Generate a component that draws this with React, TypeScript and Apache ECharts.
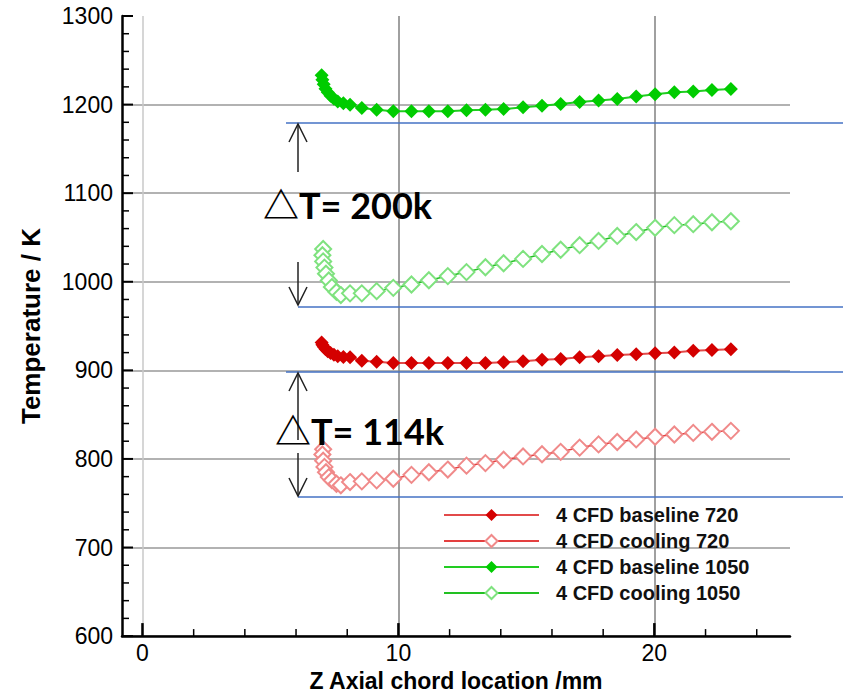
import React, { useEffect, useRef } from "react";
import * as echarts from "echarts";

// Axial positions (mm)
const zLeadBaseline = [7.0, 7.03, 7.08, 7.15, 7.24, 7.35, 7.48, 7.63, 7.85];
const zLeadCooling = [7.06, 7.03, 7.06, 7.11, 7.17, 7.28, 7.4, 7.58, 7.75];
const zMain = [8.11, 8.57, 9.15, 9.8, 10.51, 11.19, 11.93, 12.66, 13.4, 14.11, 14.87, 15.61, 16.34, 17.08, 17.82, 18.55, 19.29, 20.03, 20.78, 21.52, 22.25, 22.99];

// Temperatures (K)
const tBaseline720 = [931.3, 929, 926.5, 924, 921.5, 919.5, 917.5, 916, 915,
  914.7, 910.9, 909.8, 908.3, 908.3, 908.3, 908.3, 908.3, 908.3, 909.1, 910.2, 912, 912.8, 914.7, 915.8, 917.2, 918.3, 919.4, 920.2, 922, 923.1, 923.9];
const tCooling720 = [811, 805, 798, 791, 785, 779.5, 776, 772, 770.2,
  773.9, 774.7, 775.8, 777.6, 782, 785, 788, 792.4, 795.3, 799.1, 802.8, 805.3, 808, 812.8, 816.4, 819.1, 822, 825, 827.6, 829.4, 830.6, 831.7];
const tBaseline1050 = [1233, 1228, 1223, 1218, 1214, 1210, 1206.5, 1203.5, 1201.5,
  1199.8, 1196.1, 1194.2, 1192.4, 1192.4, 1192.4, 1192.4, 1193.6, 1194.2, 1195, 1196.9, 1198.7, 1200.6, 1202.8, 1204.7, 1206.4, 1209.1, 1211.7, 1213.9, 1214.7, 1216.4, 1217.6];
const tCooling1050 = [1037, 1030, 1023, 1016, 1009, 1001.5, 994, 988.5, 985,
  986.9, 986.9, 989.4, 993.1, 996.9, 1001.7, 1006.4, 1010.9, 1016.4, 1020.9, 1025.8, 1031.3, 1036.1, 1041.3, 1046.1, 1051.7, 1056.1, 1060.9, 1063.9, 1065, 1067.2, 1068.3];

const seriesNames = ["4 CFD baseline 720", "4 CFD cooling 720", "4 CFD baseline 1050", "4 CFD cooling 1050"];
const xMajorTicks = [0, 10, 20];
const xMinorTicks = [2, 4, 6, 8, 12, 14, 16, 18, 22, 24];
const yMajorTicks = [600, 700, 800, 900, 1000, 1100, 1200, 1300];
const yMinorTicks = [620, 640, 660, 680, 720, 740, 760, 780, 820, 840, 860, 880, 920, 940, 960, 980,
  1020, 1040, 1060, 1080, 1120, 1140, 1160, 1180, 1220, 1240, 1260, 1280];
const deltaLabels = ["△T= 200k", "△T= 114k"];

const X_MIN = -0.8;
const X_MAX = 25.3;
const Y_MIN = 600;
const Y_MAX = 1300;

const pair = (lead: number[], t: number[]) => [...lead, ...zMain].map((z, i) => [z, t[i]]);

// custom series drawing inward tick marks through the axes' scales
const tickSeries = (data: number[][], dx: number, dy: number, width: number) => ({
  type: "custom",
  data,
  silent: true,
  clip: false,
  z: 6,
  encode: { x: 0, y: 1 },
  renderItem: (_params: any, api: any) => {
    const p = api.coord([api.value(0), api.value(1)]);
    return {
      type: "line",
      shape: { x1: p[0], y1: p[1], x2: p[0] + dx, y2: p[1] + dy },
      style: { stroke: "#000", lineWidth: width },
    };
  },
});

export default function App() {
  const ref = useRef<HTMLDivElement>(null);
  useEffect(() => {
    if (!ref.current) return;
    const chart = echarts.init(ref.current, undefined, { renderer: "svg" });
    const font = "'Liberation Sans', Arial, sans-serif";
    const blue = "#4472c4";
    const arrowColor = "#222";
    const arrowUp = (x: number, y1: number, y2: number) => [
      { type: "line", shape: { x1: x, y1, x2: x, y2 }, style: { stroke: arrowColor, lineWidth: 1.5 }, z: 100 },
      { type: "polyline", shape: { points: [[x - 9, y1 + 18], [x, y1], [x + 9, y1 + 18]] }, style: { stroke: arrowColor, lineWidth: 1.5, fill: null }, z: 100 },
    ];
    const arrowDown = (x: number, y1: number, y2: number) => [
      { type: "line", shape: { x1: x, y1, x2: x, y2 }, style: { stroke: arrowColor, lineWidth: 1.5 }, z: 100 },
      { type: "polyline", shape: { points: [[x - 9, y2 - 18], [x, y2], [x + 9, y2 - 18]] }, style: { stroke: arrowColor, lineWidth: 1.5, fill: null }, z: 100 },
    ];
    const blueLine = (x1: number, y: number) => ({
      type: "line", shape: { x1, y1: y, x2: 843, y2: y }, style: { stroke: blue, lineWidth: 1.5 }, z: 100,
    });
    chart.setOption({
      animation: false,
      grid: { left: 122, top: 16, right: 53, bottom: 52, containLabel: false },
      xAxis: {
        type: "value", min: X_MIN, max: X_MAX,
        name: "Z Axial chord location /mm", nameLocation: "middle", nameGap: 24,
        nameTextStyle: { fontFamily: font, fontWeight: "bold", fontSize: 23, color: "#000" },
        axisLine: { show: true, onZero: false, lineStyle: { color: "#000", width: 2.5 } },
        axisTick: { show: false, customValues: xMajorTicks },
        axisLabel: { customValues: xMajorTicks, margin: 5, fontFamily: font, fontSize: 23, color: "#000" },
        splitLine: { show: true, lineStyle: { color: ["#c8c8c8", "#808080", "#808080"], width: 1.5 } },
      },
      yAxis: {
        type: "value", min: Y_MIN, max: Y_MAX, interval: 100,
        name: "Temperature / K", nameLocation: "middle", nameGap: 78,
        nameTextStyle: { fontFamily: font, fontWeight: "bold", fontSize: 26, color: "#000" },
        axisLine: { show: true, onZero: false, lineStyle: { color: "#000", width: 2.5 } },
        axisTick: { show: false },
        axisLabel: { margin: 9, fontFamily: font, fontSize: 23, color: "#000", formatter: (v: number) => String(v) },
        splitLine: { show: true, showMaxLine: false, lineStyle: { color: "#999", width: 1.5 } },
      },
      legend: {
        orient: "vertical", left: 443, top: 505, padding: 0,
        itemWidth: 95, itemHeight: 15, itemGap: 6,
        data: seriesNames,
        textStyle: { fontFamily: font, fontWeight: "bold", fontSize: 20, color: "#111", lineHeight: 20, padding: [0, 0, 0, 12] },
      },
      series: [
        {
          name: seriesNames[0], type: "line", data: pair(zLeadBaseline, tBaseline720),
          symbol: "diamond", symbolSize: 14,
          itemStyle: { color: "#d40000" }, lineStyle: { color: "#e24a4a", width: 2 }, z: 5,
        },
        {
          name: seriesNames[1], type: "line", data: pair(zLeadCooling, tCooling720),
          symbol: "emptyDiamond", symbolSize: 16,
          itemStyle: { color: "#f08a8a", borderWidth: 1.2 }, lineStyle: { color: "#e44040", width: 1.5 }, z: 4,
        },
        {
          name: seriesNames[2], type: "line", data: pair(zLeadBaseline, tBaseline1050),
          symbol: "diamond", symbolSize: 14,
          itemStyle: { color: "#00cc00" }, lineStyle: { color: "#22cc22", width: 2 }, z: 5,
        },
        {
          name: seriesNames[3], type: "line", data: pair(zLeadCooling, tCooling1050),
          symbol: "emptyDiamond", symbolSize: 16,
          itemStyle: { color: "#7fe27f", borderWidth: 1.2 }, lineStyle: { color: "#22c022", width: 1.5 }, z: 4,
        },
        tickSeries(xMajorTicks.map((v) => [v, Y_MIN]), 0, -13, 2.5),
        tickSeries(xMinorTicks.map((v) => [v, Y_MIN]), 0, -7, 1.5),
        tickSeries(yMajorTicks.map((v) => [X_MIN, v]), 11, 0, 2),
        tickSeries(yMinorTicks.map((v) => [X_MIN, v]), 7, 0, 1.5),
      ],
      graphic: [
        blueLine(286, 123),
        blueLine(298, 307),
        blueLine(286, 372),
        blueLine(298, 497),
        ...arrowUp(298, 124, 172),
        ...arrowDown(298, 262, 305),
        ...arrowUp(298, 373, 440),
        ...arrowDown(298, 453, 496),
        {
          type: "text", left: 263, top: 187, z: 101,
          style: { text: deltaLabels[0], fontFamily: "Lato, 'Noto Sans CJK SC', sans-serif", fontWeight: "bold", fontSize: 36, fill: "#000" },
        },
        {
          type: "text", left: 275, top: 413, z: 101,
          style: { text: deltaLabels[1], fontFamily: "Lato, 'Noto Sans CJK SC', sans-serif", fontWeight: "bold", fontSize: 36, fill: "#000" },
        },
      ],
    });
    return () => chart.dispose();
  }, []);
  return <div ref={ref} style={{ position: "fixed", left: 0, top: 0, width: 843, height: 697, background: "#fff" }} />;
}
